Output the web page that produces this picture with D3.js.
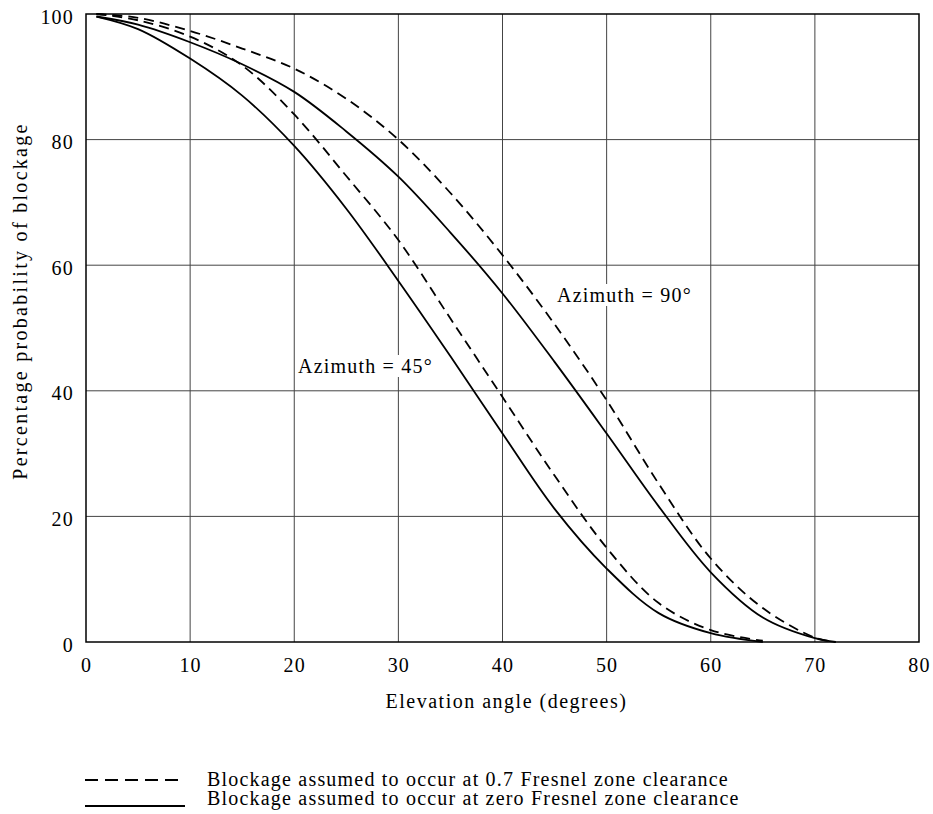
<!doctype html>
<html lang="en">
<head>
  <meta charset="utf-8">
  <title>Blockage probability vs elevation angle</title>
  <style>
    body {
      margin: 0;
      background: #fff;
    }
    text {
      font-family: "Liberation Serif", "Times New Roman", serif;
      font-size: 20px;
      letter-spacing: 1.2px;
      fill: #000;
    }
    .grid line {
      stroke: #444;
      stroke-width: 1px;
    }
    .frame {
      fill: none;
      stroke: #000;
      stroke-width: 1.5px;
    }
    .curve {
      fill: none;
      stroke: #000;
      stroke-width: 1.8px;
    }
    .dashed {
      stroke-dasharray: 10 6;
    }
  </style>
</head>
<body>
  <svg id="chart" width="933" height="814"></svg>

  <script src="https://d3js.org/d3.v7.min.js"></script>
  <script>
    // elevation angles (degrees) where the curves were read
    var elev45 = [1, 5, 10, 15, 20, 25, 30, 35, 40, 45, 50, 55, 60, 65]
    var elev90 = [1, 5, 10, 15, 20, 25, 30, 35, 40, 45, 50, 55, 60, 65, 70, 72]

    // azimuth 45 deg
    var az45Zero = [99.6, 97.6, 92.9, 87, 79, 69, 57.5, 45.5, 33.2, 21.2, 11.7, 4.6, 1.4, 0]
    var az45Fresnel = [100, 99, 96.4, 91.8, 84, 74.2, 64, 51.5, 39, 26.5, 15, 6.2, 1.9, 0.2]
    // azimuth 90 deg
    var az90Zero = [99.6, 98.3, 95.5, 92, 87.6, 81.3, 74.1, 65.2, 55.5, 44.6, 33.2, 21.6, 11.1, 3.9, 0.6, 0]
    var az90Fresnel = [100, 99.4, 97.3, 94.5, 91.3, 86.5, 80, 71.5, 61.6, 50.6, 38.5, 25.2, 13.3, 5.4, 0.7, 0]

    var xTicks = [0, 10, 20, 30, 40, 50, 60, 70, 80]
    var yTicks = [0, 20, 40, 60, 80, 100]

    var legendLabels = [
      "Blockage assumed to occur at 0.7 Fresnel zone clearance",
      "Blockage assumed to occur at zero Fresnel zone clearance"
    ]

    var mLeft = 86, mTop = 14, plotW = 833, plotH = 628

    var svg = d3.select("#chart")
    var x = d3.scaleLinear().domain([0, 80]).range([mLeft, mLeft + plotW])
    var y = d3.scaleLinear().domain([0, 100]).range([mTop + plotH, mTop])

    // grid
    var grid = svg.append("g").attr("class", "grid")
    grid.selectAll("line.v")
      .data(xTicks.slice(1, -1))
      .enter().append("line")
      .attr("class", "v")
      .attr("x1", function(d) { return x(d) })
      .attr("x2", function(d) { return x(d) })
      .attr("y1", y(0))
      .attr("y2", y(100))
    grid.selectAll("line.h")
      .data(yTicks.slice(1, -1))
      .enter().append("line")
      .attr("class", "h")
      .attr("x1", x(0))
      .attr("x2", x(80))
      .attr("y1", function(d) { return y(d) })
      .attr("y2", function(d) { return y(d) })

    // axes: only labels, the frame carries the lines
    var xAxis = d3.axisBottom(x).tickValues(xTicks).tickSize(0).tickPadding(16)
    var gx = svg.append("g")
      .attr("transform", "translate(0," + y(0) + ")")
      .call(xAxis)
    var yAxis = d3.axisLeft(y).tickValues(yTicks).tickSize(0).tickPadding(12)
    var gy = svg.append("g")
      .attr("transform", "translate(" + x(0) + ",0)")
      .call(yAxis)
    gx.select(".domain").remove()
    gy.select(".domain").remove()
    svg.selectAll(".tick text")
      .attr("font-family", null)
      .attr("font-size", null)
    gy.selectAll(".tick text").attr("dy", "0.45em")

    svg.append("rect")
      .attr("class", "frame")
      .attr("x", x(0))
      .attr("y", y(100))
      .attr("width", x(80) - x(0))
      .attr("height", y(0) - y(100))

    // azimuth labels, on white so the grid is cut
    function note(txt, tx, ty) {
      var t = svg.append("text").attr("x", tx).attr("y", ty).text(txt)
      var b = t.node().getBBox()
      svg.insert("rect", function() { return t.node() })
        .attr("x", b.x - 2).attr("y", b.y)
        .attr("width", b.width + 4).attr("height", b.height)
        .attr("fill", "#fff")
    }
    note("Azimuth = 45°", 298, 373)
    note("Azimuth = 90°", 557, 302)

    // curves
    var line = d3.line()
      .x(function(d) { return x(d[0]) })
      .y(function(d) { return y(d[1]) })
      .curve(d3.curveCatmullRom.alpha(0.5))

    var series = [
      {xs: elev45, ys: az45Zero, dash: false},
      {xs: elev45, ys: az45Fresnel, dash: true},
      {xs: elev90, ys: az90Zero, dash: false},
      {xs: elev90, ys: az90Fresnel, dash: true}
    ]
    svg.selectAll("path.curve")
      .data(series)
      .enter().append("path")
      .attr("class", function(d) { return d.dash ? "curve dashed" : "curve" })
      .attr("d", function(d) {
        return line(d.xs.map(function(v, i) { return [v, d.ys[i]] }))
      })

    // axis titles
    svg.append("text")
      .attr("x", (x(0) + x(80)) / 2 + 4)
      .attr("y", 708)
      .attr("text-anchor", "middle")
      .style("letter-spacing", "1.5px")
      .text("Elevation angle (degrees)")
    svg.append("text")
      .attr("transform", "translate(27,301) rotate(-90)")
      .attr("text-anchor", "middle")
      .style("letter-spacing", "2.3px")
      .text("Percentage probability of blockage")

    // legend
    var legend = svg.append("g")
    legend.selectAll("line")
      .data(legendLabels)
      .enter().append("line")
      .attr("x1", 85)
      .attr("x2", 185)
      .attr("y1", function(d, i) { return 780 + i * 26 })
      .attr("y2", function(d, i) { return 780 + i * 26 })
      .attr("stroke", "#000")
      .attr("stroke-width", 2)
      .attr("stroke-dasharray", function(d, i) { return i == 0 ? "13 7" : null })
    legend.selectAll("text")
      .data(legendLabels)
      .enter().append("text")
      .attr("x", 207)
      .attr("y", function(d, i) { return 786 + i * 19 })
      .text(function(d) { return d })
  </script>
</body>
</html>
